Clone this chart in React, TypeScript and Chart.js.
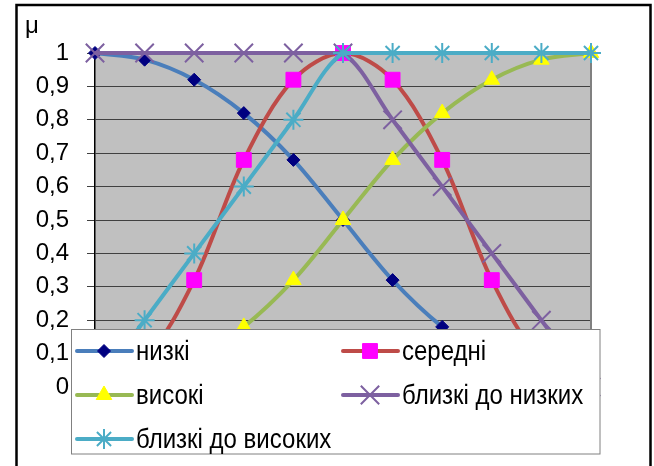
import React, { useEffect, useRef } from 'react';
import { Chart, registerables } from 'chart.js';
import { drawPoint } from 'chart.js/helpers';

Chart.register(...registerables);

// ── data ─────────────────────────────────────────────────────────
const xLabels = ['0', '1', '2', '3', '4', '5', '6', '7', '8', '9', '10'];
const low      = [1, 0.98, 0.92, 0.82, 0.68, 0.5, 0.32, 0.18, 0.08, 0.02, 0];
const mid      = [0, 0.08, 0.32, 0.68, 0.92, 1, 0.92, 0.68, 0.32, 0.08, 0];
const high     = [0, 0.02, 0.08, 0.18, 0.32, 0.5, 0.68, 0.82, 0.92, 0.98, 1];
const nearLow  = [1, 1, 1, 1, 1, 1, 0.8, 0.6, 0.4, 0.2, 0];
const nearHigh = [0, 0.2, 0.4, 0.6, 0.8, 1, 1, 1, 1, 1, 1];
const seriesNames = ['низкі', 'середні', 'високі', 'близкі до низких', 'близкі до високих'];
const yTitle = 'μ';

const FONT = "'Liberation Sans', Arial, sans-serif";

type Style = { line: string; style: string; r: number; fill: string; stroke: string; bw: number };
const styles: Style[] = [
  { line: '#4a7ebb', style: 'rectRot',  r: 6.5,  fill: '#000080', stroke: '#000080', bw: 1 },
  { line: '#be4b48', style: 'rect',     r: 10.5, fill: '#ff00ff', stroke: '#ff00ff', bw: 1 },
  { line: '#98b954', style: 'triangle', r: 9,    fill: '#ffff00', stroke: '#ffff00', bw: 1 },
  { line: '#7d60a0', style: 'crossRot', r: 13,   fill: '#7d60a0', stroke: '#7d60a0', bw: 2 },
  { line: '#4bacc6', style: 'star',     r: 10,   fill: '#4bacc6', stroke: '#4bacc6', bw: 2 },
];

// legend slots: [line start x, row centre y]
const legendSlots: [number, number][] = [
  [77, 351], [343, 351],
  [77, 395], [343, 395],
  [77, 439],
];

const framePlugin = {
  id: 'excelFrame',
  beforeDraw(chart: Chart) {
    const { ctx, chartArea: a, width, height } = chart;
    ctx.save();
    ctx.fillStyle = '#fff';
    ctx.fillRect(0, 0, width, height);
    ctx.fillStyle = '#c0c0c0';
    ctx.fillRect(a.left, a.top, a.right - a.left, a.bottom - a.top);
    ctx.restore();
  },
  beforeDatasetsDraw(chart: Chart) {
    const { ctx, chartArea: a } = chart;
    ctx.save();
    ctx.strokeStyle = '#808080';
    ctx.lineWidth = 2;
    ctx.beginPath();
    ctx.moveTo(a.left, a.top);
    ctx.lineTo(a.right, a.top);
    ctx.lineTo(a.right, a.bottom);
    ctx.stroke();
    ctx.restore();
  },
  afterDraw(chart: Chart) {
    const { ctx } = chart;
    ctx.save();

    // legend box
    ctx.fillStyle = '#fff';
    ctx.fillRect(71.5, 329, 528.5, 125);
    ctx.strokeStyle = '#808080';
    ctx.lineWidth = 1;
    ctx.strokeRect(71.5, 329.5, 528.5, 124.5);

    seriesNames.forEach((name, i) => {
      const s = styles[i];
      const [x0, y] = legendSlots[i];
      ctx.strokeStyle = s.line;
      ctx.lineWidth = 4;
      ctx.lineCap = 'round';
      ctx.beginPath();
      ctx.moveTo(x0, y);
      ctx.lineTo(x0 + 55, y);
      ctx.stroke();
      ctx.fillStyle = s.fill;
      ctx.strokeStyle = s.stroke;
      ctx.lineWidth = s.bw;
      ctx.lineCap = 'butt';
      drawPoint(ctx, { pointStyle: s.style as any, radius: s.r, rotation: 0, borderWidth: s.bw }, x0 + 27, y);

      ctx.save();
      ctx.translate(x0 + 59, y + 9);
      ctx.scale(1, 1.15);
      ctx.fillStyle = '#000';
      ctx.font = `24px ${FONT}`;
      ctx.textBaseline = 'alphabetic';
      ctx.fillText(name, 0, 0);
      ctx.restore();
    });

    // axis title
    ctx.fillStyle = '#000';
    ctx.font = `24px ${FONT}`;
    ctx.fillText(yTitle, 25, 33);

    // outer frame
    ctx.strokeStyle = '#000';
    ctx.lineWidth = 2.5;
    ctx.beginPath();
    ctx.moveTo(16.5, 470);
    ctx.lineTo(16.5, 5);
    ctx.lineTo(650.5, 5);
    ctx.lineTo(650.5, 470);
    ctx.stroke();
    ctx.restore();
  },
};

const MembershipChart: React.FC = () => {
  const ref = useRef<HTMLCanvasElement>(null);
  const chartRef = useRef<Chart | null>(null);

  useEffect(() => {
    if (!ref.current) return;
    chartRef.current?.destroy();
    const values = [low, mid, high, nearLow, nearHigh];
    chartRef.current = new Chart(ref.current, {
      type: 'line',
      data: {
        labels: xLabels,
        datasets: values.map((v, i) => ({
          label: seriesNames[i],
          data: v,
          borderColor: styles[i].line,
          backgroundColor: styles[i].fill,
          borderWidth: 4,
          tension: 0.33,
          pointStyle: styles[i].style as any,
          pointRadius: styles[i].r,
          pointBackgroundColor: styles[i].fill,
          pointBorderColor: styles[i].stroke,
          pointBorderWidth: styles[i].bw,
          clip: false as any,
          order: values.length - i,
        })),
      },
      options: {
        responsive: true, maintainAspectRatio: false, animation: false,
        layout: { padding: { left: 0, top: 53, right: 63, bottom: 79 } },
        plugins: { legend: { display: false }, tooltip: { enabled: false } },
        scales: {
          x: { display: false },
          y: {
            min: 0, max: 1,
            afterFit: (s: any) => { s.width = 95; },
            grid: { color: '#404040', lineWidth: 1, tickLength: 8 },
            border: { display: true, color: '#000', width: 1.5 },
            ticks: {
              stepSize: 0.1, padding: 18, color: '#000',
              font: { family: FONT, size: 24 },
              callback: (v: any) => String(Math.round(Number(v) * 10) / 10).replace('.', ','),
            },
          },
        },
      },
      plugins: [framePlugin],
    });
    return () => chartRef.current?.destroy();
  }, []);

  return <canvas ref={ref} />;
};

export default function App() {
  return (
    <div style={{ position: 'absolute', left: 0, top: 0, width: 654, height: 466 }}>
      <MembershipChart />
    </div>
  );
}
